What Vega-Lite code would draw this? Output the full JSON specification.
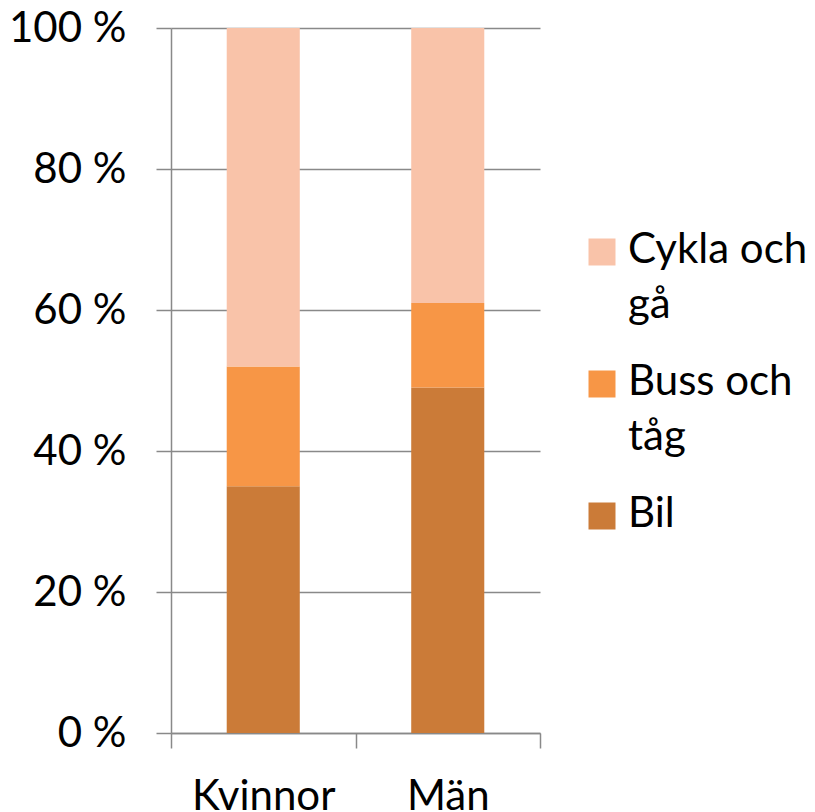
{
  "$schema": "https://vega.github.io/schema/vega-lite/v6.json",
  "autosize": "none",
  "width": 369,
  "height": 705,
  "padding": {"left": 171, "top": 28, "right": 275, "bottom": 79},
  "background": "white",
  "data": {
    "values": [
      {"kon": "Kvinnor", "fardsatt": "Bil", "andel": 35, "ordning": 1},
      {"kon": "Kvinnor", "fardsatt": "Buss och tåg", "andel": 17, "ordning": 2},
      {"kon": "Kvinnor", "fardsatt": "Cykla och gå", "andel": 48, "ordning": 3},
      {"kon": "Män", "fardsatt": "Bil", "andel": 49, "ordning": 1},
      {"kon": "Män", "fardsatt": "Buss och tåg", "andel": 12, "ordning": 2},
      {"kon": "Män", "fardsatt": "Cykla och gå", "andel": 39, "ordning": 3}
    ]
  },
  "mark": {"type": "bar", "width": {"band": 0.396}},
  "encoding": {
    "x": {
      "field": "kon",
      "type": "nominal",
      "sort": ["Kvinnor", "Män"],
      "scale": {"paddingInner": 0, "paddingOuter": 0},
      "axis": {
        "title": null,
        "labelAngle": 0,
        "tickBand": "extent",
        "tickSize": 15,
        "labelPadding": 28,
        "labelBaseline": "top",
        "grid": false
      }
    },
    "y": {
      "field": "andel",
      "type": "quantitative",
      "stack": "zero",
      "scale": {"domain": [0, 100], "nice": false},
      "axis": {
        "title": null,
        "values": [0, 20, 40, 60, 80, 100],
        "labelExpr": "datum.value + ' %'",
        "tickSize": 15,
        "labelPadding": 30,
        "grid": true
      }
    },
    "color": {
      "field": "fardsatt",
      "type": "nominal",
      "scale": {
        "domain": ["Cykla och gå", "Buss och tåg", "Bil"],
        "range": ["#F9C3A9", "#F79646", "#CB7B38"]
      },
      "legend": {
        "title": null,
        "orient": "none",
        "legendX": 410,
        "legendY": 203,
        "symbolType": "square",
        "symbolSize": 729,
        "symbolStrokeWidth": 0,
        "labelOffset": 5,
        "labelBaseline": "top",
        "rowPadding": 35,
        "labelLimit": 300,
        "labelExpr": "datum.label == 'Cykla och gå' ? ['Cykla och', 'gå'] : datum.label == 'Buss och tåg' ? ['Buss och', 'tåg'] : datum.label",
        "encode": {"labels": {"update": {"dy": {"value": -22}}}}
      }
    },
    "order": {"field": "ordning", "type": "quantitative"}
  },
  "config": {
    "view": {"stroke": null},
    "font": "Lato",
    "axis": {
      "labelFont": "Lato",
      "labelFontSize": 42,
      "labelColor": "#000000",
      "domainColor": "#898989",
      "domainWidth": 1.5,
      "tickColor": "#898989",
      "tickWidth": 1.5,
      "gridColor": "#898989",
      "gridWidth": 1.5,
      "gridOpacity": 1
    },
    "legend": {
      "labelFont": "Lato",
      "labelFontSize": 42,
      "labelColor": "#000000",
      "padding": 0
    },
    "style": {
      "guide-label": {"lineHeight": 55}
    }
  }
}
